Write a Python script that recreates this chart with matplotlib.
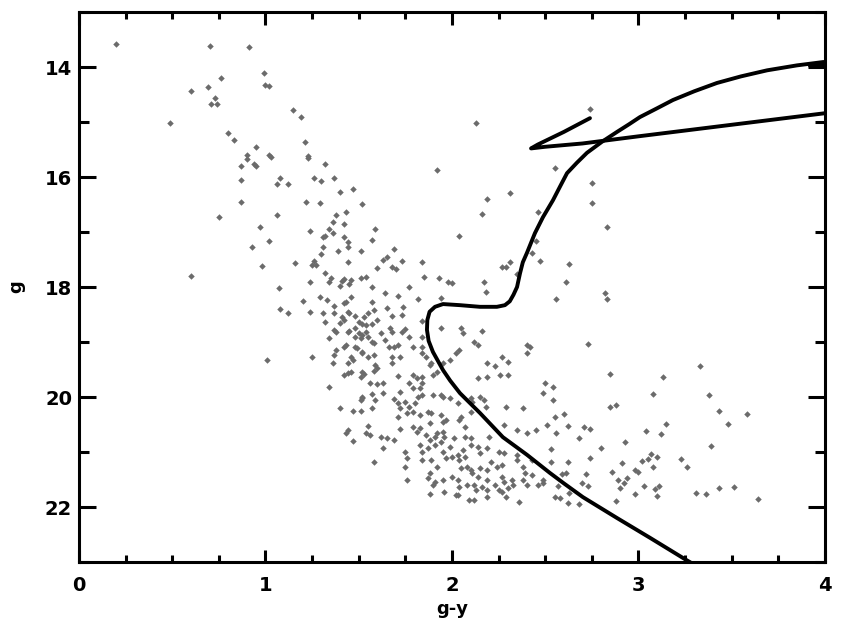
import matplotlib
matplotlib.use('Agg')
import matplotlib.pyplot as plt
from matplotlib.ticker import MultipleLocator
import numpy as np

bright_stars = [
    (0.20, 13.58), (0.70, 13.62), (0.91, 13.64), (0.99, 14.11), (0.76, 14.20), (1.00, 14.33), (1.02, 14.35),
    (0.60, 14.44), (0.69, 14.36), (0.73, 14.56), (0.71, 14.67), (0.74, 14.67), (1.15, 14.78), (1.19, 14.91),
    (0.49, 15.02), (0.80, 15.20), (0.83, 15.33), (0.95, 15.45), (0.90, 15.60), (0.90, 15.67), (1.02, 15.60),
    (1.03, 15.64), (0.87, 15.80), (0.94, 15.76), (0.95, 15.80), (1.08, 16.02), (0.87, 16.05), (1.06, 16.13),
    (1.12, 16.13), (0.87, 16.45), (0.75, 16.73), (1.06, 16.69), (0.97, 16.91), (0.60, 17.80),
    (1.21, 15.36), (1.23, 15.62), (1.23, 15.65), (1.32, 15.76), (1.26, 16.02), (1.30, 16.07), (1.37, 16.02),
    (1.40, 16.27), (1.47, 16.22),
]

field_stars = [
    (2.13, 15.02), (1.92, 15.87), (2.19, 16.40), (2.31, 16.29), (2.74, 14.76), (2.55, 15.84), (2.75, 16.11),
    (2.16, 16.67), (2.04, 17.07), (2.46, 16.64), (2.75, 16.47), (2.83, 16.91), (2.17, 17.91), (2.18, 18.09),
    (2.27, 17.64), (2.29, 17.64), (2.31, 17.55), (2.35, 17.76), (2.45, 17.16), (2.43, 17.38), (2.47, 17.53),
    (2.63, 17.58), (2.61, 17.91), (2.56, 18.22), (2.82, 18.11), (2.83, 18.22), (2.73, 19.04), (3.33, 19.44),
]

upper_ms = [
    (0.93, 17.27), (1.02, 17.16), (0.98, 17.62), (1.16, 17.56), (1.07, 18.02), (1.20, 18.25), (1.08, 18.40),
    (1.12, 18.47), (1.01, 19.33), (1.25, 19.27), (1.22, 16.45), (1.29, 16.47), (1.52, 16.49), (1.24, 16.98),
    (1.38, 16.69), (1.43, 16.64), (1.36, 16.82), (1.42, 16.85), (1.34, 16.95), (1.36, 17.02), (1.32, 17.07),
    (1.31, 17.09), (1.42, 17.09), (1.44, 17.18), (1.44, 17.27), (1.59, 16.95), (1.57, 17.15), (1.31, 17.27),
    (1.39, 17.35), (1.51, 17.35), (1.30, 17.40), (1.26, 17.53), (1.25, 17.60), (1.27, 17.60), (1.44, 17.55),
    (1.60, 17.65), (1.32, 17.75), (1.24, 17.91), (1.34, 17.91), (1.35, 17.84), (1.41, 17.89), (1.42, 17.85),
    (1.46, 17.87), (1.45, 17.95), (1.40, 17.98), (1.51, 17.84), (1.54, 17.82), (1.57, 18.00), (1.29, 18.18),
    (1.33, 18.24), (1.37, 18.35), (1.42, 18.29), (1.43, 18.27), (1.46, 18.18), (1.57, 18.27), (1.24, 18.45),
    (1.31, 18.47), (1.37, 18.47), (1.44, 18.45), (1.45, 18.47), (1.41, 18.55), (1.42, 18.60), (1.40, 18.65),
    (1.48, 18.53), (1.53, 18.55), (1.55, 18.47), (1.58, 18.42), (1.32, 18.64), (1.50, 18.64), (1.52, 18.67),
    (1.54, 18.69), (1.57, 18.67), (1.60, 18.60), (1.37, 18.78), (1.38, 18.82), (1.44, 18.82), (1.45, 18.80),
    (1.48, 18.75), (1.50, 18.84), (1.52, 18.87), (1.51, 18.93), (1.54, 18.82), (1.55, 18.91), (1.57, 19.00),
    (1.58, 19.02), (1.34, 18.93), (1.48, 18.91), (1.43, 19.05), (1.42, 19.09), (1.48, 19.09), (1.49, 19.11),
    (1.52, 19.18), (1.52, 19.20), (1.38, 19.15), (1.37, 19.24), (1.58, 19.24), (1.55, 19.27), (1.46, 19.27),
    (1.44, 19.38), (1.47, 19.33), (1.36, 19.38), (1.59, 19.42), (1.60, 19.47),
]

turnoff_stars = [
    (1.69, 17.31), (1.73, 17.53), (1.65, 17.45), (1.63, 17.51), (1.68, 17.64), (1.70, 17.67), (1.84, 17.55),
    (1.85, 17.82), (1.93, 17.84), (1.98, 17.91), (2.00, 17.93), (1.77, 18.00), (1.71, 18.16), (1.64, 18.11),
    (1.82, 18.22), (1.94, 18.20), (1.65, 18.38), (1.74, 18.36), (1.68, 18.53), (1.73, 18.51), (1.84, 18.62),
    (1.94, 18.75), (2.05, 18.75), (2.06, 18.84), (2.16, 18.80), (2.12, 19.00), (2.14, 19.05), (2.40, 19.05),
    (2.42, 19.09), (2.40, 19.20), (2.04, 19.15), (2.02, 19.20), (1.99, 19.33), (2.27, 19.27), (2.30, 19.36),
    (2.19, 19.38), (2.23, 19.44), (1.89, 19.38), (1.75, 18.76), (1.73, 18.82), (1.77, 18.91), (1.79, 19.09),
    (1.84, 18.91), (1.84, 19.09), (1.67, 18.75), (1.68, 18.82), (1.62, 18.84), (1.64, 18.96), (1.66, 19.09),
    (1.69, 19.09), (1.71, 19.05), (1.68, 19.27), (1.68, 19.38), (1.84, 19.20), (1.86, 19.27), (1.88, 19.42),
    (1.95, 19.38), (1.72, 19.27),
]

mid_ms = [
    (1.34, 19.82), (1.42, 19.60), (1.44, 19.56), (1.46, 19.55), (1.52, 19.55), (1.53, 19.58), (1.51, 19.64),
    (1.58, 19.53), (1.56, 19.75), (1.60, 19.76), (1.52, 20.00), (1.51, 20.05), (1.52, 20.02), (1.57, 19.95),
    (1.59, 20.05), (1.40, 20.20), (1.47, 20.25), (1.51, 20.25), (1.57, 20.20), (1.44, 20.60), (1.43, 20.65),
    (1.47, 20.80), (1.55, 20.53), (1.54, 20.65), (1.56, 20.69), (1.58, 21.18),
]

lower_ms = [
    (1.71, 19.62), (1.79, 19.60), (1.81, 19.65), (1.84, 19.75), (1.84, 19.64), (1.90, 19.60), (1.92, 19.55),
    (1.77, 19.75), (1.79, 19.84), (1.83, 19.84), (1.63, 19.75), (1.63, 19.93), (1.72, 19.91), (1.69, 20.04),
    (1.71, 20.11), (1.75, 20.09), (1.77, 20.18), (1.80, 20.11), (1.82, 20.00), (1.84, 19.96), (1.90, 19.96),
    (1.94, 19.96), (1.95, 20.00), (1.99, 20.02), (2.03, 20.11), (1.72, 20.20), (1.71, 20.36), (1.76, 20.29),
    (1.79, 20.27), (1.83, 20.33), (1.87, 20.27), (1.89, 20.29), (1.94, 20.33), (1.97, 20.42), (1.95, 20.45),
    (2.05, 20.36), (2.10, 20.27), (1.72, 20.58), (1.79, 20.55), (1.81, 20.64), (1.83, 20.56), (1.88, 20.47),
    (1.92, 20.65), (1.95, 20.64), (1.96, 20.73), (1.91, 20.73), (1.86, 20.69), (1.88, 20.78), (1.83, 20.87),
    (1.87, 20.93), (1.91, 20.87), (1.94, 20.82), (1.95, 21.00), (1.99, 20.91), (1.62, 20.73), (1.65, 20.75),
    (1.69, 20.78), (1.63, 20.93), (1.75, 21.00), (1.76, 21.11), (1.75, 21.27), (1.76, 21.51), (1.84, 21.00),
    (1.84, 21.15), (1.89, 21.15), (1.92, 21.27), (1.97, 21.11), (2.00, 21.09), (2.03, 21.05), (2.04, 21.15),
    (2.07, 21.09), (2.06, 20.96), (2.07, 20.73), (2.10, 20.75), (2.10, 20.87), (2.14, 20.91), (2.05, 21.29),
    (2.08, 21.27), (2.10, 21.33), (2.11, 21.38), (2.15, 21.29), (2.14, 21.45), (2.19, 21.51), (2.19, 21.33),
    (2.24, 21.27), (2.27, 21.45), (2.28, 21.55), (2.32, 21.51), (2.33, 21.60), (1.88, 21.38), (1.87, 21.47),
    (1.90, 21.60), (1.91, 21.55), (1.95, 21.51), (2.00, 21.45), (2.03, 21.51), (2.04, 21.64), (2.08, 21.60),
    (2.12, 21.60), (2.13, 21.69), (2.16, 21.64), (2.19, 21.69), (2.23, 21.60), (2.25, 21.69), (2.27, 21.73),
    (2.30, 21.65), (1.88, 21.76), (1.96, 21.73), (2.02, 21.78), (2.03, 21.78), (2.09, 21.87), (2.12, 21.87),
    (2.19, 21.82), (2.29, 21.82), (2.36, 21.91), (2.39, 21.38), (2.43, 21.42), (2.38, 21.51), (2.40, 21.60),
    (2.46, 21.60), (2.49, 21.56), (2.14, 19.65), (2.19, 19.64), (2.26, 19.60), (2.30, 19.60), (2.15, 20.00),
    (2.17, 20.05), (2.18, 20.18), (2.29, 20.18), (2.38, 20.20), (2.28, 20.51), (2.35, 20.60), (2.40, 20.65),
    (2.45, 20.60), (2.51, 20.51), (2.50, 19.75), (2.49, 19.93), (2.20, 20.73), (2.19, 20.93), (2.25, 21.00),
    (2.28, 21.02), (2.35, 21.05), (2.35, 21.15), (2.38, 21.27), (2.43, 21.15), (2.49, 21.51), (2.10, 20.02),
    (2.11, 20.09), (2.04, 20.42), (2.07, 20.55), (2.01, 20.75), (2.15, 21.02), (2.21, 21.18), (2.27, 21.24),
]

red_faint = [
    (2.85, 19.58), (3.13, 19.64), (2.54, 19.82), (2.54, 20.05), (2.85, 20.18), (2.88, 20.15), (3.08, 19.95),
    (3.38, 19.96), (3.43, 20.25), (3.58, 20.31), (3.48, 20.49), (2.60, 20.31), (2.55, 20.36), (2.62, 20.53),
    (2.56, 20.65), (2.71, 20.55), (2.74, 20.58), (2.68, 20.75), (2.53, 20.95), (2.62, 21.18), (2.53, 21.18),
    (2.74, 21.11), (2.80, 20.93), (2.93, 20.82), (3.04, 20.62), (3.15, 20.49), (3.12, 20.67), (3.39, 20.89),
    (3.23, 21.13), (3.26, 21.27), (3.07, 21.04), (3.10, 21.09), (3.02, 21.16), (3.05, 21.13), (3.08, 21.27),
    (2.91, 21.20), (2.86, 21.36), (2.98, 21.33), (3.00, 21.36), (2.94, 21.47), (2.89, 21.51), (2.92, 21.56),
    (2.90, 21.65), (2.72, 21.40), (2.70, 21.56), (2.73, 21.62), (2.59, 21.40), (2.61, 21.38), (2.57, 21.62),
    (2.63, 21.75), (2.55, 21.82), (2.58, 21.84), (2.62, 21.93), (2.68, 21.95), (2.88, 21.89), (2.98, 21.76),
    (3.03, 21.62), (3.09, 21.67), (3.11, 21.62), (3.10, 21.80), (3.31, 21.75), (3.36, 21.76), (3.43, 21.65),
    (3.51, 21.64), (3.64, 21.85),
]

# isochrone: main sequence -> turnoff -> subgiant -> red giant branch (runs off the right edge)
iso_gy = [3.30, 3.255, 3.062, 2.885, 2.702, 2.60, 2.525, 2.402, 2.273, 2.150, 2.043, 1.99, 1.952, 1.898,
          1.875, 1.866, 1.868, 1.88, 1.909, 1.952, 2.043, 2.150, 2.241, 2.284, 2.310, 2.330, 2.349, 2.365,
          2.380, 2.402, 2.445, 2.488, 2.542, 2.580, 2.617, 2.670, 2.724, 2.804, 2.885, 2.950, 3.008, 3.100,
          3.185, 3.300, 3.421, 3.550, 3.690, 3.850, 3.989, 4.05, 4.05, 3.92, 4.05]
iso_g = [23.05, 22.96, 22.56, 22.20, 21.82, 21.57, 21.38, 21.05, 20.73, 20.29, 19.93, 19.70, 19.51, 19.18,
         18.98, 18.78, 18.60, 18.45, 18.36, 18.31, 18.33, 18.36, 18.36, 18.33, 18.26, 18.14, 18.00, 17.75,
         17.55, 17.38, 17.02, 16.73, 16.42, 16.17, 15.93, 15.74, 15.56, 15.36, 15.18, 15.04, 14.91, 14.75,
         14.60, 14.44, 14.29, 14.17, 14.06, 13.97, 13.91, 13.90, 13.95, 13.98, 14.00]
# returning branch down to the horizontal-branch hook
hb_gy = [4.10, 4.00, 3.50, 3.00, 2.70, 2.50, 2.424, 2.46, 2.60, 2.74]
hb_g = [14.80, 14.84, 15.05, 15.26, 15.39, 15.45, 15.48, 15.41, 15.18, 14.93]

stars = np.array(bright_stars + field_stars + upper_ms + turnoff_stars + mid_ms + lower_ms + red_faint)

plt.rcParams['font.family'] = 'DejaVu Sans'
plt.rcParams['font.weight'] = 'bold'

fig = plt.figure(figsize=(8.41, 6.23), dpi=100)
ax = fig.add_axes([0.0939, 0.0979, 0.887, 0.8828])

ax.plot(stars[:, 0], stars[:, 1], 'D', ms=3.3, color='#6b6b6b', mec='none')
ax.plot(iso_gy, iso_g, color='black', lw=2.8, solid_joinstyle='round', solid_capstyle='round')
ax.plot(hb_gy, hb_g, color='black', lw=2.8, solid_joinstyle='round', solid_capstyle='round')

ax.set_xlim(0, 4)
ax.set_ylim(23, 13)
ax.xaxis.set_major_locator(MultipleLocator(1))
ax.xaxis.set_minor_locator(MultipleLocator(0.25))
ax.yaxis.set_major_locator(MultipleLocator(2))
ax.yaxis.set_minor_locator(MultipleLocator(1))

for sp in ax.spines.values():
    sp.set_linewidth(2.2)
ax.tick_params(which='both', direction='in', top=True, right=True, width=2.2, labelsize=14)
ax.tick_params(axis='x', which='major', length=9, pad=10)
ax.tick_params(axis='x', which='minor', length=5)
ax.tick_params(axis='y', which='major', length=12, pad=5)
ax.tick_params(axis='y', which='minor', length=7)

ax.set_xlabel('g-y', fontsize=13, fontweight='bold', labelpad=4)
ax.set_ylabel('g', fontsize=13, fontweight='bold', labelpad=14)

fig.savefig('out.png', dpi=100)
